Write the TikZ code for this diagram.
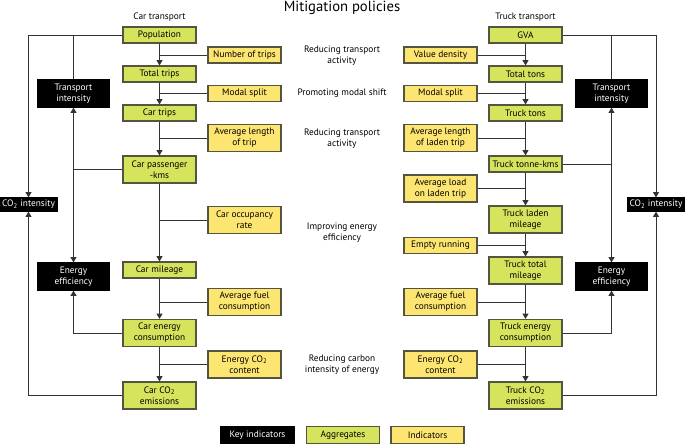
\documentclass[tikz,border=0pt]{standalone}
\usepackage{fontspec}
\setmainfont{PT Sans}
\usetikzlibrary{arrows.meta}
\definecolor{agg}{HTML}{D5E35D}
\definecolor{ind}{HTML}{FCE570}
\definecolor{edge}{HTML}{55553F}
\definecolor{wire}{HTML}{333333}

\tikzset{
  boxbase/.style={draw=edge, line width=0.9pt, align=center, inner sep=1pt,
    minimum width=54.75pt, minimum height=12pt},
  aggbox/.style={boxbase, fill=agg},
  indbox/.style={boxbase, fill=ind},
  keybox/.style={boxbase, fill=black, draw=black, text=white, minimum width=53.25pt},
  cibox/.style={keybox, minimum width=42.75pt, minimum height=9.75pt},
  tall/.style={minimum height=20.25pt},
  wire/.style={draw=wire, line width=0.75pt},
  flow/.style={wire, -{Triangle[length=4pt,width=4.5pt]}},
}

\begin{document}
\begin{tikzpicture}[x=0.75pt,y=-0.75pt,font=\fontsize{7pt}{8.2pt}\selectfont]
  \useasboundingbox (0,0) rectangle (685,444);
  \node[font=\fontsize{11pt}{13pt}\selectfont] (title) at (342,8) {Mitigation policies};
  \node (carhead) at (159.5,17) {Car transport};
  \node (truckhead) at (525.5,17) {Truck transport};

  % car transport chain
  \node[aggbox] (pop) at (159.5,35) {Population};
  \node[indbox] (ntrips) at (244.5,55) {Number of trips};
  \node[aggbox] (ttrips) at (159.5,74) {Total trips};
  \node[indbox] (msplitL) at (244.5,93.5) {Modal split};
  \node[aggbox] (ctrips) at (159.5,113) {Car trips};
  \node[indbox,tall] (alenL) at (244.5,138) {Average length\\of trip};
  \node[aggbox,tall] (cpkm) at (159.5,169.5) {Car passenger\\-kms};
  \node[indbox,tall] (occ) at (244.5,220) {Car occupancy\\rate};
  \node[aggbox] (cmil) at (159.5,270) {Car mileage};
  \node[indbox,tall] (afuelL) at (244.5,302) {Average fuel\\consumption};
  \node[aggbox,tall] (cen) at (159.5,333) {Car energy\\consumption};
  \node[indbox,tall] (eco2L) at (244.5,364.5) {Energy CO\textsubscript{2}\\content};
  \node[aggbox,tall] (cco2) at (159.5,395.5) {Car CO\textsubscript{2}\\emissions};
  \node[keybox,tall] (tiL) at (73.5,93.5) {Transport\\intensity};
  \node[keybox,tall] (eeL) at (73.5,276.5) {Energy\\efficiency};
  \node[cibox] (ciL) at (28.5,204.5) {CO\textsubscript{2} intensity};

  % truck transport chain
  \node[aggbox] (gva) at (525.5,35) {GVA};
  \node[indbox] (vdens) at (440.5,55) {Value density};
  \node[aggbox] (ttons) at (525.5,74) {Total tons};
  \node[indbox] (msplitR) at (440.5,93.5) {Modal split};
  \node[aggbox] (trtons) at (525.5,113) {Truck tons};
  \node[indbox,tall] (alenR) at (440.5,138) {Average length\\of laden trip};
  \node[aggbox] (tkm) at (525.5,164) {Truck tonne-kms};
  \node[indbox,tall] (aload) at (440.5,188.5) {Average load\\on laden trip};
  \node[aggbox,tall] (tlm) at (525.5,219.5) {Truck laden\\mileage};
  \node[indbox] (empty) at (440.5,245.5) {Empty running};
  \node[aggbox,tall] (ttm) at (525.5,270.5) {Truck total\\mileage};
  \node[indbox,tall] (afuelR) at (440.5,302) {Average fuel\\consumption};
  \node[aggbox,tall] (ten) at (525.5,333) {Truck energy\\consumption};
  \node[indbox,tall] (eco2R) at (440.5,364.5) {Energy CO\textsubscript{2}\\content};
  \node[aggbox,tall] (tco2) at (525.5,395.5) {Truck CO\textsubscript{2}\\emissions};
  \node[keybox,tall] (tiR) at (611.5,93.5) {Transport\\intensity};
  \node[keybox,tall] (eeR) at (611.5,276.5) {Energy\\efficiency};
  \node[cibox] (ciR) at (656,204.5) {CO\textsubscript{2} intensity};

  % policies
  \node[align=center] (pol1) at (342,55.5) {Reducing transport\\activity};
  \node (pol2) at (342,93.5) {Promoting modal shift};
  \node[align=center] (pol3) at (342,138.5) {Reducing transport\\activity};
  \node[align=center] (pol4) at (342,232.5) {Improving energy\\efficiency};
  \node[align=center] (pol5) at (342,364.5) {Reducing carbon\\intensity of energy};

  % legend
  \node[keybox, minimum width=54.75pt, minimum height=12.75pt] (legkey) at (257.5,435) {Key indicators};
  \node[aggbox, minimum height=12.75pt] (legagg) at (343,435) {Aggregates};
  \node[indbox, minimum height=12.75pt] (legind) at (427.5,435) {Indicators};

  % car connectors
  \draw[flow] (pop) -- (ttrips);
  \draw[flow] (ttrips) -- (ctrips);
  \draw[flow] (ctrips) -- (cpkm);
  \draw[flow] (cpkm) -- (cmil);
  \draw[flow] (cmil) -- (cen);
  \draw[flow] (cen) -- (cco2);
  \foreach \i in {ntrips,msplitL,alenL,occ,afuelL,eco2L}
    \draw[wire] (\i.west) -- (\i.west -| pop);
  \draw[flow] (pop.west) -| (ciL.north);
  \draw[wire] (tiL.north) -- (tiL.north |- pop.west);
  \draw[flow] (cpkm.west) -| (tiL.south);
  \draw[flow] (cpkm.west -| eeL) -- (eeL.north);
  \draw[flow] (cen.west) -| (eeL.south);
  \draw[flow] (cco2.west) -| (ciL.south);

  % truck connectors
  \draw[flow] (gva) -- (ttons);
  \draw[flow] (ttons) -- (trtons);
  \draw[flow] (trtons) -- (tkm);
  \draw[flow] (tkm) -- (tlm);
  \draw[flow] (tlm) -- (ttm);
  \draw[flow] (ttm) -- (ten);
  \draw[flow] (ten) -- (tco2);
  \foreach \i in {vdens,msplitR,alenR,aload,empty,afuelR,eco2R}
    \draw[wire] (\i.east) -- (\i.east -| gva);
  \draw[flow] (gva.east) -| (ciR.north);
  \draw[wire] (tiR.north) -- (tiR.north |- gva.east);
  \draw[flow] (tkm.east) -| (tiR.south);
  \draw[flow] (tkm.east -| eeR) -- (eeR.north);
  \draw[flow] (ten.east) -| (eeR.south);
  \draw[flow] (tco2.east) -| (ciR.south);
\end{tikzpicture}
\end{document}
